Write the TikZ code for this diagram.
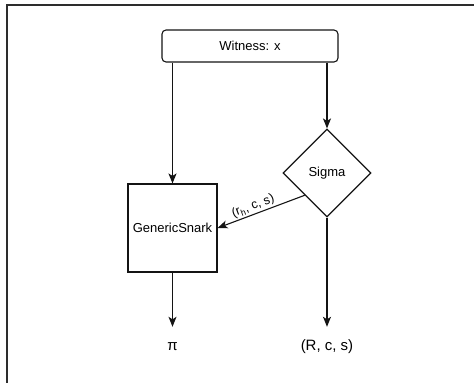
\documentclass[tikz,border=0pt]{standalone}
\usepackage{fontspec}
\setmainfont{Liberation Sans}
\usetikzlibrary{positioning,shapes.geometric,arrows.meta}
\definecolor{ink}{RGB}{20,20,20}
\definecolor{framegray}{RGB}{45,45,45}
\begin{document}
\begin{tikzpicture}[
    x=1pt,y=-1pt,
    box/.style={draw=ink,line width=1.1pt,font=\fontsize{13}{15}\selectfont,inner sep=0pt},
    witnessbox/.style={box,rounded corners=4pt,minimum width=176pt,minimum height=32pt},
    snarkbox/.style={box,minimum width=89pt,minimum height=88pt},
    choice/.style={box,diamond,minimum size=88pt},
    outlabel/.style={font=\fontsize{15}{18}\selectfont,text height=11pt,text depth=4pt,
      inner xsep=2pt,inner ysep=12pt,anchor=base},
    arr/.style={-{Stealth[length=10pt,width=8pt,inset=2.5pt]},line width=1.1pt,draw=ink}
  ]
  \useasboundingbox (0,0) rectangle (475,383);
  % window edge
  \draw[framegray,line width=1.5pt] (7,383) -- (7,5) -- (474,5);

  \node[witnessbox] (witness) at (250,46) {Witness: x};
  \node[snarkbox] (snark) at (172.5,228) {GenericSnark};
  \node[choice] (sigma) at (327,173) {Sigma};
  \node[outlabel] (proof) at (172.5,350) {π};
  \node[outlabel] (triple) at (327,350) {(R, c, s)};

  \draw[arr] (witness.south -| snark.north) -- (snark.north);
  \draw[arr] (witness.south -| sigma.north) -- (sigma.north);
  \draw[arr] (sigma.south west) -- node[sloped,above,pos=0.56,inner sep=1.5pt,
    font=\fontsize{12.5}{14}\selectfont] {(r\textsubscript{h}, c, s)} (snark.east);
  \draw[arr] (snark.south) -- (proof.north);
  \draw[arr] (sigma.south) -- (triple.north);
\end{tikzpicture}
\end{document}
